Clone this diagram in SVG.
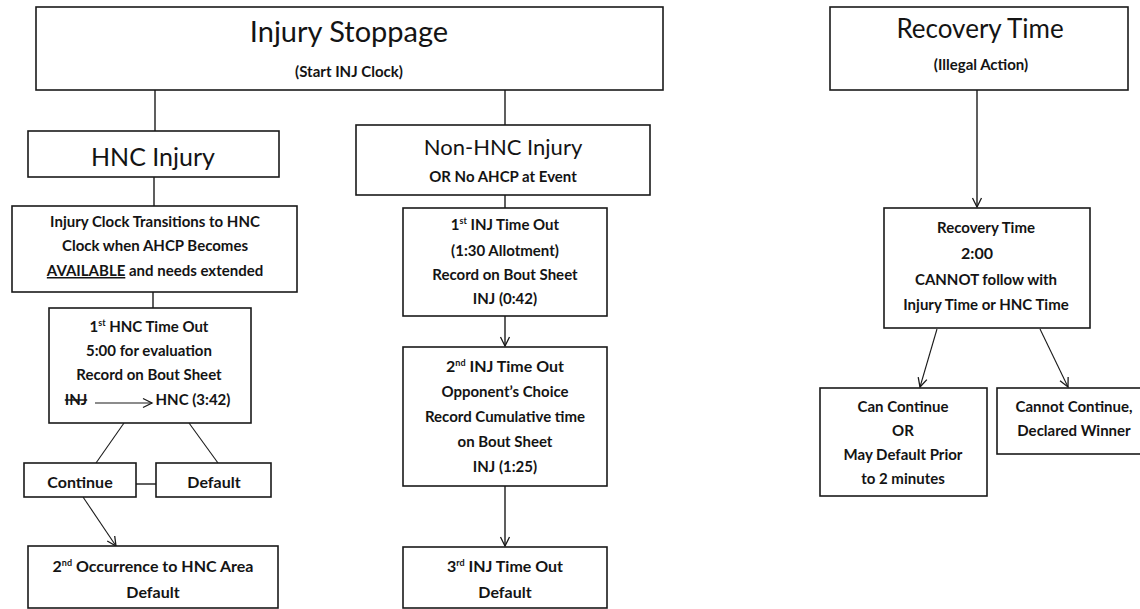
<svg xmlns="http://www.w3.org/2000/svg" width="1140" height="609" viewBox="0 0 1140 609">
<style>
.box{fill:#fff;stroke:#1a1a1a;stroke-width:1.6}
.t{font-family:Lato,"Open Sans","Liberation Sans",sans-serif;fill:#141414;text-anchor:middle}
.b{font-weight:bold;font-size:15px}
.c{stroke:#1a1a1a;stroke-width:1.4;fill:none}
.d{stroke:#1a1a1a;stroke-width:1.1;fill:none}
.sup{font-size:9px}
</style>
<defs>
<marker id="v" markerUnits="userSpaceOnUse" markerWidth="12" markerHeight="12" refX="10" refY="5" orient="auto" viewBox="0 0 12 10">
<path d="M1,0.5 L10,5 L1,9.5" fill="none" stroke="#1a1a1a" stroke-width="1.3"/>
</marker>
</defs>
<rect width="1140" height="609" fill="#fff"/>
<g id="connectors">
<line class="c" x1="155" y1="90" x2="155" y2="131"/>
<line class="c" x1="505" y1="90" x2="505" y2="125"/>
<line class="c" x1="154" y1="177" x2="154" y2="206"/>
<line class="c" x1="153" y1="292" x2="153" y2="308"/>
<line class="d" x1="124" y1="423" x2="96" y2="463"/>
<line class="d" x1="189" y1="423" x2="218" y2="463"/>
<line class="c" x1="133" y1="484" x2="159" y2="484"/>
<line class="d" x1="83" y1="497" x2="116" y2="546" marker-end="url(#v)"/>
<line class="c" x1="505" y1="195" x2="505" y2="208"/>
<line class="c" x1="505" y1="316" x2="505" y2="346" marker-end="url(#v)"/>
<line class="c" x1="505" y1="486" x2="505" y2="546" marker-end="url(#v)"/>
<line class="c" x1="977" y1="90" x2="977" y2="207" marker-end="url(#v)"/>
<line class="d" x1="937" y1="329" x2="920" y2="387" marker-end="url(#v)"/>
<line class="d" x1="1040" y1="329" x2="1068" y2="387" marker-end="url(#v)"/>
</g>
<g id="injury-stoppage">
<rect class="box" x="36" y="7" width="627" height="83"/>
<text class="t" x="349" y="42" style="font-size:29px">Injury Stoppage</text>
<text class="t b" x="349" y="77">(Start INJ Clock)</text>
</g>
<g id="hnc-injury">
<rect class="box" x="28" y="131" width="251" height="46"/>
<text class="t" x="153" y="166" style="font-size:25px">HNC Injury</text>
</g>
<g id="injury-clock">
<rect class="box" x="12" y="206" width="285" height="86"/>
<text class="t b" x="155" y="227">Injury Clock Transitions to HNC</text>
<text class="t b" x="155" y="251">Clock when AHCP Becomes</text>
<text class="t b" x="155" y="276"><tspan text-decoration="underline">AVAILABLE</tspan> and needs extended</text>
</g>
<g id="hnc-timeout">
<rect class="box" x="49" y="308" width="202" height="115"/>
<text class="t b" x="149" y="332">1<tspan class="sup" dy="-6">st</tspan><tspan dy="6"> HNC Time Out</tspan></text>
<text class="t b" x="149" y="356">5:00 for evaluation</text>
<text class="t b" x="149" y="380">Record on Bout Sheet</text>
<text class="t b" x="76" y="405" text-decoration="line-through">INJ</text>
<line class="d" x1="95" y1="403" x2="152" y2="403" marker-end="url(#v)"/>
<text class="t b" x="193" y="405">HNC (3:42)</text>
</g>
<g id="continue">
<rect class="box" x="24" y="463" width="112" height="34"/>
<text class="t b" x="80" y="488" style="font-size:16px">Continue</text>
</g>
<g id="default">
<rect class="box" x="156" y="463" width="115" height="34"/>
<text class="t b" x="214" y="488" style="font-size:16px">Default</text>
</g>
<g id="second-occurrence">
<rect class="box" x="28" y="546" width="250" height="62"/>
<text class="t b" x="153" y="572" style="font-size:16px">2<tspan class="sup" dy="-6">nd</tspan><tspan dy="6"> Occurrence to HNC Area</tspan></text>
<text class="t b" x="153" y="598" style="font-size:16px">Default</text>
</g>
<g id="non-hnc">
<rect class="box" x="356" y="125" width="294" height="70"/>
<text class="t" x="503" y="155" style="font-size:22px">Non-HNC Injury</text>
<text class="t b" x="503" y="182">OR No AHCP at Event</text>
</g>
<g id="inj-timeout-1">
<rect class="box" x="403" y="208" width="204" height="108"/>
<text class="t b" x="505" y="230">1<tspan class="sup" dy="-6">st</tspan><tspan dy="6"> INJ Time Out</tspan></text>
<text class="t b" x="505" y="256">(1:30 Allotment)</text>
<text class="t b" x="505" y="280">Record on Bout Sheet</text>
<text class="t b" x="505" y="304">INJ (0:42)</text>
</g>
<g id="inj-timeout-2">
<rect class="box" x="403" y="347" width="204" height="139"/>
<text class="t b" x="505" y="372" style="font-size:16px">2<tspan class="sup" dy="-6">nd</tspan><tspan dy="6"> INJ Time Out</tspan></text>
<text class="t b" x="505" y="397">Opponent’s Choice</text>
<text class="t b" x="505" y="422">Record Cumulative time</text>
<text class="t b" x="505" y="447">on Bout Sheet</text>
<text class="t b" x="505" y="472">INJ (1:25)</text>
</g>
<g id="inj-timeout-3">
<rect class="box" x="403" y="547" width="204" height="61"/>
<text class="t b" x="505" y="572" style="font-size:16px">3<tspan class="sup" dy="-6">rd</tspan><tspan dy="6"> INJ Time Out</tspan></text>
<text class="t b" x="505" y="598" style="font-size:16px">Default</text>
</g>
<g id="recovery-time">
<rect class="box" x="830" y="7" width="298" height="83"/>
<text class="t" x="980" y="38" style="font-size:26px">Recovery Time</text>
<text class="t b" x="981" y="70">(Illegal Action)</text>
</g>
<g id="recovery-2min">
<rect class="box" x="884" y="208" width="206" height="120"/>
<text class="t b" x="986" y="233">Recovery Time</text>
<text class="t b" x="977" y="259" style="font-size:16px">2:00</text>
<text class="t b" x="986" y="285">CANNOT follow with</text>
<text class="t b" x="986" y="310">Injury Time or HNC Time</text>
</g>
<g id="can-continue">
<rect class="box" x="820" y="388" width="167" height="108"/>
<text class="t b" x="903" y="412">Can Continue</text>
<text class="t b" x="903" y="436">OR</text>
<text class="t b" x="903" y="460">May Default Prior</text>
<text class="t b" x="903" y="484">to 2 minutes</text>
</g>
<g id="cannot-continue">
<rect class="box" x="997" y="388" width="150" height="66"/>
<text class="t b" x="1074" y="412">Cannot Continue,</text>
<text class="t b" x="1074" y="436">Declared Winner</text>
</g>
</svg>
